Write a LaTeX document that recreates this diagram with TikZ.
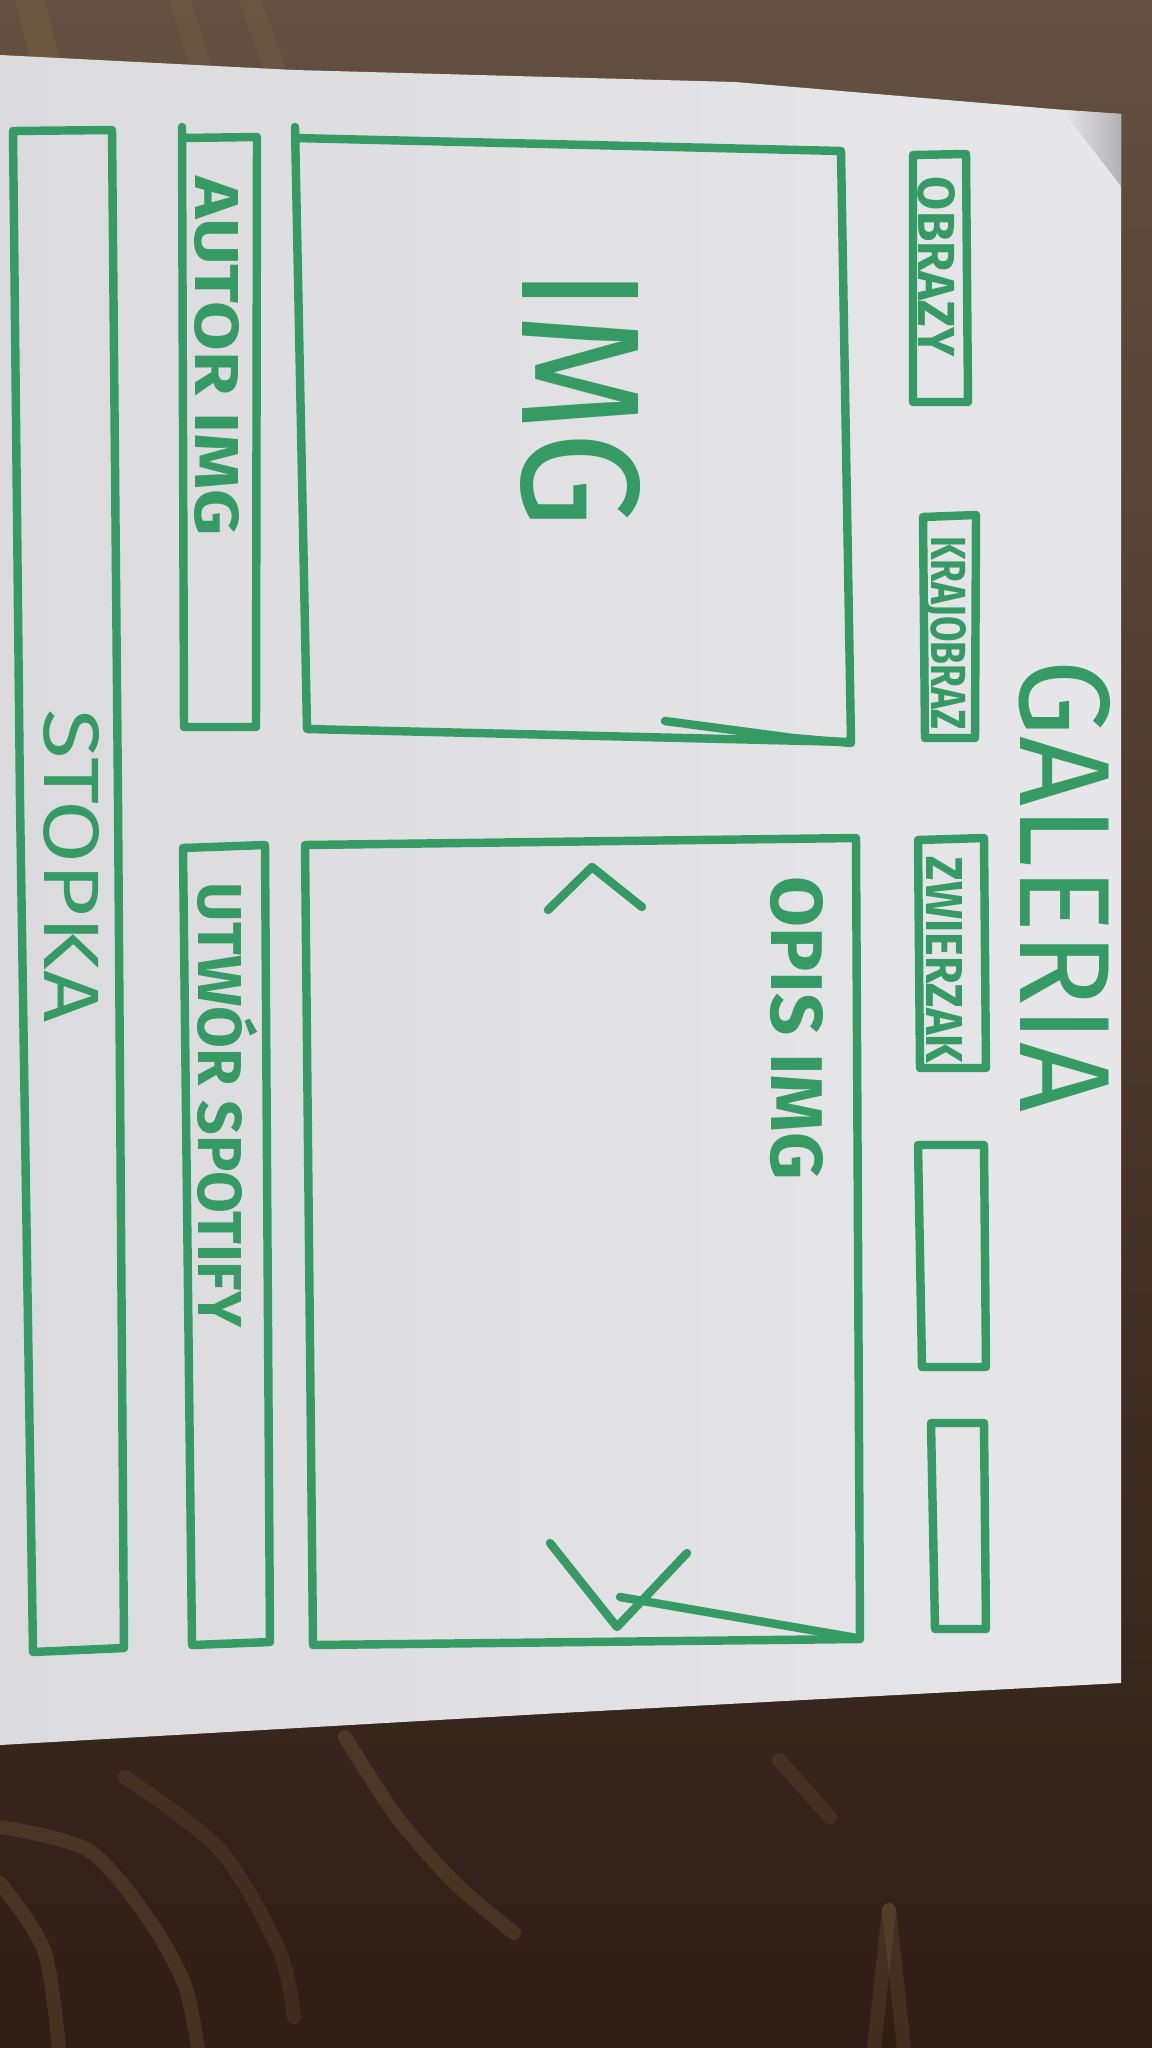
\documentclass[tikz,border=0pt]{standalone}
\usepackage{fontspec}
\setmainfont{Fira Sans}
\usepackage{graphicx}
\definecolor{marker}{RGB}{54,154,100}
\definecolor{paperlight}{RGB}{231,231,233}
\definecolor{paperdark}{RGB}{219,219,222}
\definecolor{clothtop}{RGB}{100,80,64}
\definecolor{clothmid}{RGB}{76,56,44}
\definecolor{clothbot}{RGB}{46,30,22}
\definecolor{weave}{RGB}{150,124,76}
\definecolor{foldgray}{RGB}{178,178,182}

% stretch an upper-case word to a given length and cap height
\newcommand{\capsfit}[3]{\resizebox{#1}{#2}{#3}}

\begin{document}
\begin{tikzpicture}[x=0.01cm, y=-0.01cm,
  ink/.style={draw=marker, line width=2.4pt, line cap=round, line join=round},
  lbl/.style={rotate=-90, inner sep=0pt, text=marker, font=\bfseries},
  biglbl/.style={rotate=-90, inner sep=0pt, text=marker},
  thread/.style={draw=weave, line width=4pt, opacity=0.22, line cap=round},
]
\useasboundingbox (0,0) rectangle (1152,2048);

% cloth underneath the sheet
\shade[top color=clothtop, middle color=clothmid, bottom color=clothbot] (0,0) rectangle (1152,2048);
% pale threads in the upper weave
\draw[thread, opacity=0.18, line width=8pt] (30,0) -- (45,60);
\draw[thread, opacity=0.15, line width=6pt] (180,0) -- (200,65);
\draw[thread, opacity=0.15, line width=6pt] (250,0) -- (275,70);
% golden swirls in the lower cloth
\draw[thread] plot[smooth] coordinates {(345,1737) (397,1817) (455,1883) (514,1933)};
\draw[thread] plot[smooth] coordinates {(0,1827) (88,1850) (147,1917) (184,1983) (198,2048)};
\draw[thread] plot[smooth] coordinates {(0,1883) (44,1950) (59,2048)};
\draw[thread, opacity=0.15] plot[smooth] coordinates {(125,1777) (220,1850) (279,1950) (294,2017)};
\draw[thread, opacity=0.15] plot[smooth] coordinates {(779,1760) (830,1817)};
\draw[thread, opacity=0.18] (889,1910) -- (874,2048);
\draw[thread, opacity=0.18] (889,1910) -- (904,2048);

% the sheet of paper
\shade[left color=paperdark, right color=paperlight]
  (0,55) -- (294,70) -- (735,82) -- (1065,110) -- (1121,114)
  -- (1121,1683) -- (560,1713) -- (0,1745) -- cycle;
% curled corner
\shade[left color=paperlight, right color=foldgray] (1062,110) -- (1121,114) -- (1121,186) -- cycle;

% footer strip
\draw[ink] (13,131) -- (112,130) -- (118,800) -- (124,1648) -- (33,1652) -- (20,800) -- cycle;
% author strip
\draw[ink] (182,127) -- (184,727) -- (256,727) -- (257,137) -- (182,138);
% track strip
\draw[ink] (183,848) -- (265,845) -- (270,1642) -- (192,1645) -- cycle;
% picture frame
\draw[ink] (295,127) -- (307,729) -- (851,742) -- (841,151) -- (295,138);
\draw[ink] (665,721) -- (793,738) -- (851,743);
% description panel with its arrows
\draw[ink] (305,845) -- (856,838) -- (860,1639) -- (313,1645) -- cycle;
\draw[ink] (548,910) -- (592,867) -- (642,907);
\draw[ink] (550,1543) -- (617,1627) -- (687,1553);
\draw[ink] (620,1597) -- (857,1638);
% menu buttons
\draw[ink] (913,155) -- (966,154) -- (968,402) -- (913,402) -- cycle;
\draw[ink] (923,517) -- (976,515) -- (975,738) -- (925,738) -- cycle;
\draw[ink] (918,840) -- (984,838) -- (986,1068) -- (920,1068) -- cycle;
\draw[ink] (918,1145) -- (984,1145) -- (986,1367) -- (922,1367) -- cycle;
\draw[ink] (931,1423) -- (984,1423) -- (986,1629) -- (935,1629) -- cycle;

% texts
\node[biglbl] (galeria) at (1065,886) {\capsfit{4.53cm}{0.90cm}{GALERIA}};
\node[lbl] (obrazy) at (937,267) {\capsfit{1.80cm}{0.37cm}{OBRAZY}};
\node[lbl] (krajobraz) at (945,633) {\capsfit{1.93cm}{0.35cm}{KRAJOBRAZ}};
\node[lbl] (zwierzak) at (945,960) {\capsfit{2.06cm}{0.36cm}{ZWIERZAK}};
\node[biglbl] (img) at (581,398) {\capsfit{2.61cm}{1.18cm}{IMG}};
\node[lbl] (opis) at (797,1028) {\capsfit{3.03cm}{0.52cm}{OPIS IMG}};
\node[lbl] (autor) at (217,356) {\capsfit{3.59cm}{0.44cm}{AUTOR IMG}};
\node[lbl] (utwor) at (220,1105) {\capsfit{4.44cm}{0.44cm}{UTW\smash{Ó}R SPOTIFY}};
\node[biglbl] (stopka) at (72,866) {\capsfit{3.13cm}{0.55cm}{STOPKA}};
\end{tikzpicture}
\end{document}
